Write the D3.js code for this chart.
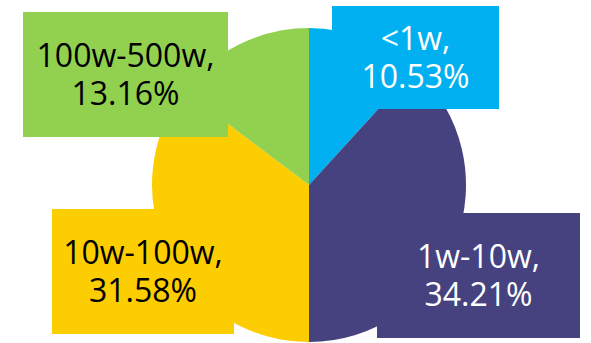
<!DOCTYPE html>
<html>
<head>
<meta charset="utf-8">
<script src="https://cdn.jsdelivr.net/npm/d3@7"></script>
<style>
  body { margin: 0; background: #fff; }
  .lbl text { font: 32px "Open Sans", "Noto Sans", sans-serif; text-anchor: middle; }
</style>
</head>
<body>
<svg id="svg"></svg>
<script>
var categories = ["<1w", "1w-10w", "10w-100w", "100w-500w"];
var percents = [10.53, 34.21, 31.58, 13.16];
var colors = ["#00B0F0", "#46427F", "#FCCD00", "#92D050"];
var textColors = ["#fff", "#fff", "#000", "#000"];

var width = 591, height = 343,
    cx = 309, cy = 185, radius = 157;

// label boxes: centre offset from pie centre, and box size
var boxes = [
  {dx: 106.5, dy: -127.5, w: 167, h: 103},
  {dx: 169.5, dy: 90.5, w: 203, h: 125},
  {dx: -166, dy: 86.5, w: 182, h: 125},
  {dx: -183.5, dy: -110.5, w: 205, h: 125}
];

var data = categories.map(function(c, i) {
  return {key: c, value: percents[i], color: colors[i], text: textColors[i], box: boxes[i]};
});

var svg = d3.select("#svg").attr("width", width).attr("height", height);

var pie = d3.pie().sort(null).value(function(d) { return d.value; });
var arc = d3.arc().outerRadius(radius).innerRadius(0);

var g = svg.append("g").attr("transform", "translate(" + cx + "," + cy + ")");

g.selectAll(".arc")
  .data(pie(data))
  .enter().append("path")
  .attr("class", "arc")
  .attr("d", arc)
  .style("fill", function(d) { return d.data.color; });

var lbl = g.selectAll(".lbl")
  .data(data)
  .enter().append("g")
  .attr("class", "lbl")
  .attr("transform", function(d) { return "translate(" + d.box.dx + "," + d.box.dy + ")"; });

lbl.append("rect")
  .attr("x", function(d) { return -d.box.w / 2; })
  .attr("y", function(d) { return -d.box.h / 2; })
  .attr("width", function(d) { return d.box.w; })
  .attr("height", function(d) { return d.box.h; })
  .style("fill", function(d) { return d.color; });

lbl.append("text")
  .attr("y", -8)
  .style("fill", function(d) { return d.text; })
  .text(function(d) { return d.key + ","; });

lbl.append("text")
  .attr("y", 30)
  .style("fill", function(d) { return d.text; })
  .text(function(d) { return d.value.toFixed(2) + "%"; });
</script>
</body>
</html>
